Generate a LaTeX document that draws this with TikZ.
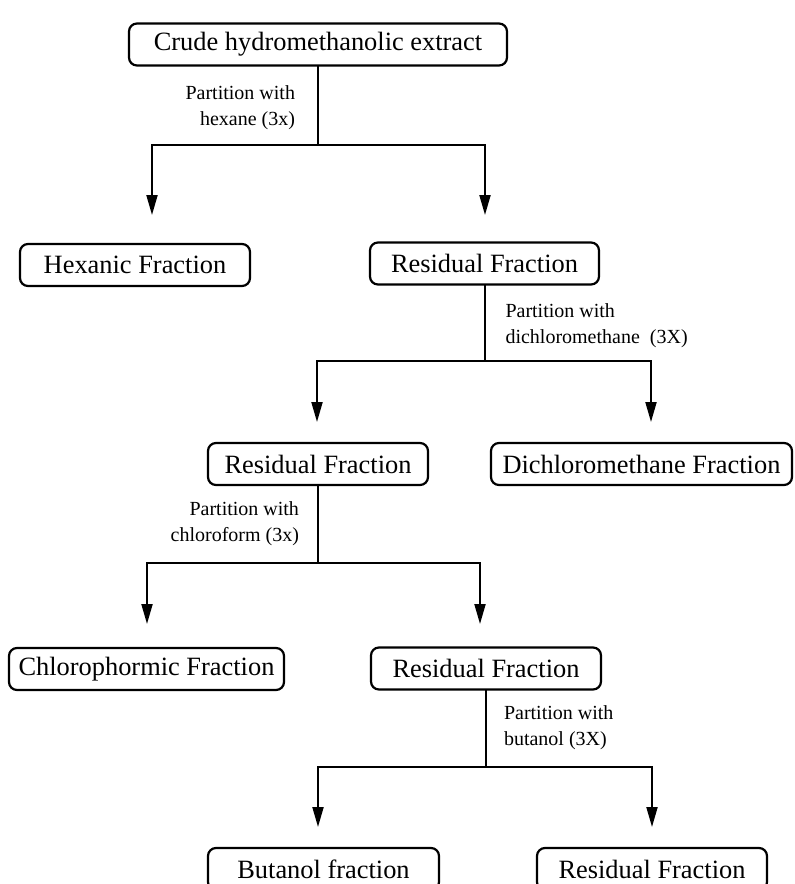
\documentclass[tikz,border=0pt]{standalone}
\usepackage{fontspec}
\setmainfont{Liberation Serif}
\usetikzlibrary{calc,arrows.meta}

\begin{document}
\begin{tikzpicture}[x=0.5pt,y=0.5pt,inner sep=0pt,outer sep=0pt,
    fraction/.style={draw,line width=1.1pt,rounded corners=4pt,minimum height=21pt,
        font=\fontsize{13.2}{15}\selectfont},
    partlbl/.style={font=\fontsize{10}{13}\selectfont},
    flow/.style={line width=1pt},
    splitarr/.style={flow,-{Triangle[length=10pt,width=5.5pt]}}]
    \useasboundingbox (0,0) rectangle (795,-884);
    \clip (0,0) rectangle (795,-884);

    % extract
    \node[fraction, minimum width=189pt] (crude) at (318,-44.5)
    {Crude hydromethanolic extract};

    % hexane step
    \node[fraction, minimum width=115pt] (hex_fr) at (135,-265) {Hexanic Fraction};
    \node[fraction, minimum width=114.5pt] (res_a) at (484.5,-263.5) {Residual Fraction};
    \coordinate (split_a) at ($(crude.south) + (0,-79)$);
    \coordinate (hex_in) at (152,-215);
    \coordinate (res_a_in) at (485,-215);
    \draw[flow] (crude.south) -- (split_a);
    \draw[splitarr] (split_a) -| (hex_in);
    \draw[splitarr] (split_a) -| (res_a_in);
    \node[partlbl, anchor=north east, align=right] (hex_lbl)
    at ($(crude.south) + (-23,-20)$)
    {Partition with \\ hexane (3x)};

    % dichloromethane step
    \node[fraction, minimum width=110pt] (res_b) at (318,-464) {Residual Fraction};
    \node[fraction, minimum width=150.5pt] (dcm_fr) at (641.5,-464) {Dichloromethane Fraction};
    \coordinate (split_b) at ($(res_a.south) + (0,-76)$);
    \coordinate (res_b_in) at (317,-422);
    \coordinate (dcm_in) at (651,-422);
    \draw[flow] (res_a.south) -- (split_b);
    \draw[splitarr] (split_b) -| (res_b_in);
    \draw[splitarr] (split_b) -| (dcm_in);
    \node[partlbl, anchor=north west, align=left] (dcm_lbl)
    at ($(res_a.south) + (21,-19)$)
    {Partition with \\ dichloromethane~~(3X)};

    % chloroform step
    \node[fraction, minimum width=137.5pt] (chl_fr) at (146.5,-669) {Chlorophormic Fraction};
    \node[fraction, minimum width=115pt] (res_c) at (486,-668.5) {Residual Fraction};
    \coordinate (split_c) at ($(res_b.south) + (0,-78)$);
    \coordinate (chl_in) at (147,-624);
    \coordinate (res_c_in) at (480,-624);
    \draw[flow] (res_b.south) -- (split_c);
    \draw[splitarr] (split_c) -| (chl_in);
    \draw[splitarr] (split_c) -| (res_c_in);
    \node[partlbl, anchor=north east, align=right] (chl_lbl)
    at ($(res_b.south) + (-19,-17)$)
    {Partition with \\ chloroform (3x)};

    % butanol step
    \node[fraction, minimum width=115.5pt] (but_fr) at (323.5,-869) {Butanol fraction};
    \node[fraction, minimum width=115pt] (res_d) at (652,-869) {Residual Fraction};
    \coordinate (split_d) at ($(res_c.south) + (0,-77)$);
    \coordinate (but_in) at (318,-827);
    \coordinate (res_d_in) at (652,-827);
    \draw[flow] (res_c.south) -- (split_d);
    \draw[splitarr] (split_d) -| (but_in);
    \draw[splitarr] (split_d) -| (res_d_in);
    \node[partlbl, anchor=north west, align=left] (but_lbl)
    at ($(res_c.south) + (18,-16)$)
    {Partition with \\ butanol (3X)};

\end{tikzpicture}
\end{document}
